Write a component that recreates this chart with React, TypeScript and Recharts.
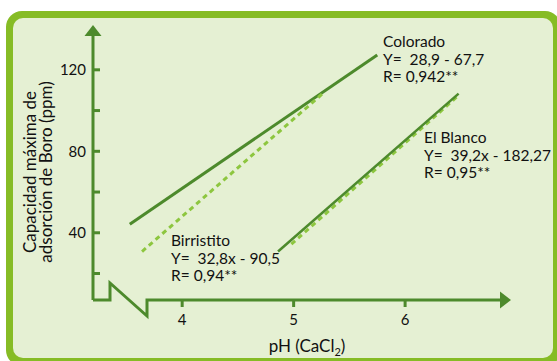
import { LineChart, Line, XAxis, YAxis, Customized } from 'recharts';

// pH values and adsorption capacity (ppm)
const coloradoX = [3.53, 5.75];
const coloradoY = [44.2, 127.3];
const birristitoX = [3.64, 5.26];
const birristitoY = [30.8, 108.3];
const blancoX = [4.86, 6.48];
const blancoY = [30.8, 108.3];
const blancoFitX = [4.98, 6.47];
const blancoFitY = [34.4, 107.0];

const xTicks = [4, 5, 6];
const yTicks = [20, 40, 60, 80, 100, 120];
const yLabelled = [40, 80, 120];

const coloradoText = ['Colorado', 'Y=  28,9 - 67,7', 'R= 0,942**'];
const blancoText = ['El Blanco', 'Y=  39,2x - 182,27', 'R= 0,95**'];
const birristitoText = ['Birristito', 'Y=  32,8x - 90,5', 'R= 0,94**'];
const yTitle = ['Capacidad máxima de', 'adsorción de Boro (ppm)'];

const toPoints = (xs: number[], ys: number[]) => xs.map((x, i) => ({ x, y: ys[i] }));

const DARK = '#4d8a2c';
const LIGHT = '#8dc63f';
const TEXT = '#111';
const FONT = 'Lato, "Noto Sans", sans-serif';

// plot box, matches the margins below
const L = 93;
const T = 25;
const R = 511;
const B = 300;

const YTick = (props: any) => {
  const { x, y, payload } = props;
  const show = yLabelled.includes(payload.value);
  return (
    <g>
      <line x1={L} x2={L + 7} y1={y} y2={y} stroke={DARK} strokeWidth={3} />
      {show && (
        <text x={x} y={y} dy="0.36em" textAnchor="end" fontSize={15} fill={TEXT} fontFamily={FONT}>
          {payload.value}
        </text>
      )}
    </g>
  );
};

const Note = ({ x, y, lines }: { x: number; y: number; lines: string[] }) => (
  <text x={x} y={y} fontSize={15.5} fill={TEXT} fontFamily={FONT} style={{ whiteSpace: 'pre' }}>
    {lines.map((s, i) => (
      <tspan key={i} x={x} dy={i === 0 ? 0 : 17.5}>
        {s}
      </tspan>
    ))}
  </text>
);

const Decor = () => (
  <g>
    {/* y axis with arrow */}
    <line x1={L} y1={T + 10} x2={L} y2={B} stroke={DARK} strokeWidth={3} />
    <polygon points={`${L},${T} ${L - 8.5},${T + 11} ${L + 8.5},${T + 11}`} fill={DARK} />
    {/* broken x axis */}
    <polyline
      points={`${L},${B} ${L + 17},${B} ${L + 17},${B - 17} ${L + 54},${B + 16} ${L + 54},${B} ${R - 9},${B}`}
      fill="none"
      stroke={DARK}
      strokeWidth={3}
      strokeLinejoin="miter"
    />
    <polygon points={`${R},${B} ${R - 11},${B - 8.5} ${R - 11},${B + 8.5}`} fill={DARK} />
    {/* axis titles */}
    <text x={307} y={346} dy="0.35em" textAnchor="middle" fontSize={17} fill={TEXT} fontFamily={FONT}>
      pH (CaCl
      <tspan fontSize={11} dy={4}>2</tspan>
      <tspan dy={-4}>)</tspan>
    </text>
    {yTitle.map((s, i) => (
      <text
        key={i}
        x={30 + i * 16}
        y={172}
        dy="0.35em"
        textAnchor="middle"
        fontSize={17}
        fill={TEXT}
        fontFamily={FONT}
        transform={`rotate(-90 ${30 + i * 16} 172)`}
      >
        {s}
      </text>
    ))}
    <Note x={383} y={47} lines={coloradoText} />
    <Note x={424} y={143} lines={blancoText} />
    <Note x={171} y={246} lines={birristitoText} />
  </g>
);

export default function App() {
  return (
    <div style={{ position: 'absolute', left: 0, top: 0, width: 557, height: 361, background: '#fff', overflow: 'hidden' }}>
      <div style={{ position: 'absolute', left: 6, top: 11, width: 555, height: 355, background: '#86bc25', borderRadius: 16 }} />
      <div style={{ position: 'absolute', left: 13, top: 18, width: 540, height: 340, background: '#e5f0d3', borderRadius: 10 }} />
      <div style={{ position: 'absolute', left: 0, top: 0 }}>
        <LineChart width={557} height={361} margin={{ top: T, right: 557 - R, bottom: 31, left: 0 }}>
          <XAxis
            type="number"
            dataKey="x"
            domain={[3.2, 6.95]}
            ticks={xTicks}
            allowDataOverflow
            axisLine={false}
            tickLine={{ stroke: DARK, strokeWidth: 3 }}
            tickSize={7}
            tickMargin={7}
            height={30}
            tick={{ fontSize: 15, fill: TEXT, fontFamily: FONT }}
          />
          <YAxis
            type="number"
            dataKey="y"
            domain={[7, 142]}
            ticks={yTicks}
            allowDataOverflow
            axisLine={false}
            tickLine={false}
            tickSize={0}
            tickMargin={7}
            width={L}
            tick={<YTick />}
          />
          <Customized component={Decor} />
          <Line data={toPoints(coloradoX, coloradoY)} dataKey="y" stroke={DARK} strokeWidth={3} dot={false} isAnimationActive={false} />
          <Line data={toPoints(birristitoX, birristitoY)} dataKey="y" stroke={LIGHT} strokeWidth={3} strokeDasharray="5 4" dot={false} isAnimationActive={false} />
          <Line data={toPoints(blancoFitX, blancoFitY)} dataKey="y" stroke={LIGHT} strokeWidth={3} strokeDasharray="5 4" dot={false} isAnimationActive={false} />
          <Line data={toPoints(blancoX, blancoY)} dataKey="y" stroke={DARK} strokeWidth={2.5} dot={false} isAnimationActive={false} />
        </LineChart>
      </div>
    </div>
  );
}
